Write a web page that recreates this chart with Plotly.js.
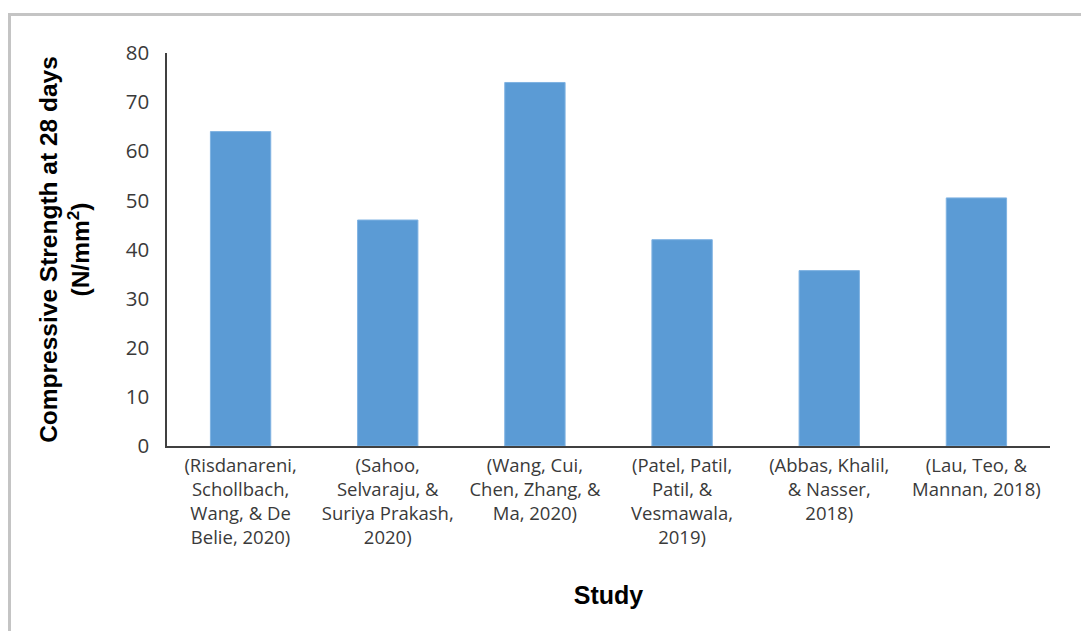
<!DOCTYPE html>
<html>
<head>
<meta charset="utf-8">
<script src="https://cdn.plot.ly/plotly-3.0.1.min.js"></script>
<style>
  html, body { margin: 0; padding: 0; background: #ffffff; }
  #frame { position: absolute; left: 8px; top: 13px; width: 1090px; height: 640px;
           border-top: 3px solid #c4c4c4; border-left: 3px solid #c4c4c4; box-sizing: border-box; }
  #chart { position: absolute; left: 0; top: 0; width: 1081px; height: 631px; }
</style>
</head>
<body>
<div id="frame"></div>
<div id="chart"></div>
<script>
const studies = [
  "(Risdanareni,<br>Schollbach,<br>Wang, & De<br>Belie, 2020)",
  "(Sahoo,<br>Selvaraju, &<br>Suriya Prakash,<br>2020)",
  "(Wang, Cui,<br>Chen, Zhang, &<br>Ma, 2020)",
  "(Patel, Patil,<br>Patil, &<br>Vesmawala,<br>2019)",
  "(Abbas, Khalil,<br>& Nasser,<br>2018)",
  "(Lau, Teo, &<br>Mannan, 2018)"
];
const strength28 = [64, 46, 74, 42, 35.7, 50.5];
const yTicks = [0, 10, 20, 30, 40, 50, 60, 70, 80];

const trace = {
  type: 'bar',
  x: studies,
  y: strength28,
  marker: { color: '#5B9BD5', line: { color: '#7FB2E2', width: 1 } },
  hoverinfo: 'x+y'
};

const tickFont = { family: '"Open Sans", Lato, sans-serif', size: 18.5, color: '#3a3a3a' };

const layout = {
  width: 1081,
  height: 631,
  margin: { l: 167, r: 31, t: 53, b: 185 },
  paper_bgcolor: 'rgba(0,0,0,0)',
  plot_bgcolor: 'rgba(0,0,0,0)',
  bargap: 0.59,
  showlegend: false,
  font: tickFont,
  xaxis: {
    showline: true, linecolor: '#404040', linewidth: 1.5,
    ticks: '', showgrid: false, zeroline: false,
    tickfont: tickFont,
    ticklabelstandoff: 2,
    automargin: false,
    title: { text: 'Study', font: { family: '"Liberation Sans", Arial, sans-serif', size: 25, color: '#000000', weight: 'bold' }, standoff: 38 }
  },
  yaxis: {
    range: [0, 80],
    tickvals: yTicks,
    ticktext: yTicks.map(String),
    showline: true, linecolor: '#404040', linewidth: 1.5,
    ticks: '', showgrid: false, zeroline: false,
    ticklabelstandoff: 12,
    tickfont: { family: '"Open Sans", Lato, sans-serif', size: 20.5, color: '#3a3a3a' },
    automargin: false,
    title: { text: 'Compressive Strength at 28 days<br>(N/mm<sup>2</sup>)', font: { family: '"Liberation Sans", Arial, sans-serif', size: 24.5, color: '#000000', weight: 'bold' }, standoff: 29 }
  }
};

Plotly.newPlot('chart', [trace], layout, { displayModeBar: false });
</script>
</body>
</html>
